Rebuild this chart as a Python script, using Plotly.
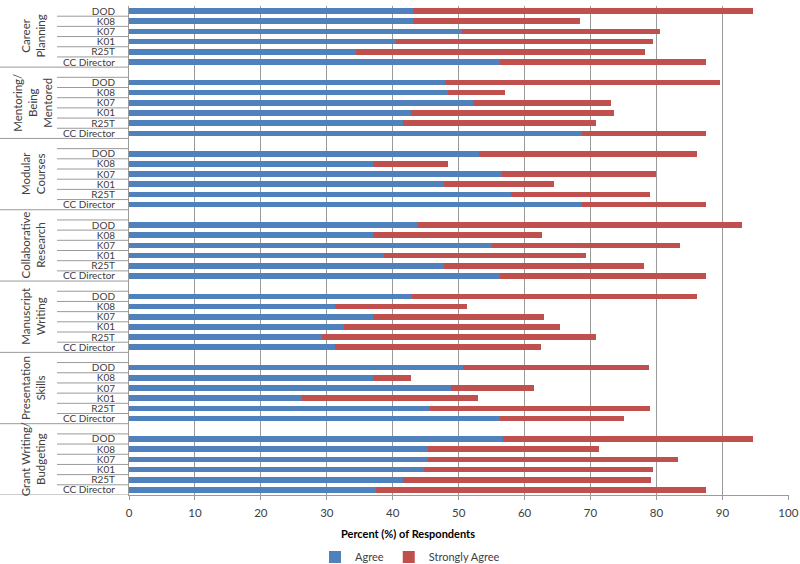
import plotly.graph_objects as go

groups = ["Career<br>Planning", "Mentoring/<br>Being<br>Mentored", "Modular<br>Courses",
          "Collaborative<br>Research", "Manuscript<br>Writing", "Presentation<br>Skills",
          "Grant Writing/<br>Budgeting"]
categories = ["DOD", "K08", "K07", "K01", "R25T", "CC Director"]

agree = [
    [43.0, 43.0, 50.5, 40.5, 34.4, 56.25],
    [48.0, 48.4, 52.1, 42.7, 41.5, 68.75],
    [53.1, 37.0, 56.6, 47.7, 58.0, 68.75],
    [43.8, 37.0, 55.0, 38.7, 47.7, 56.25],
    [42.9, 31.3, 37.0, 32.6, 29.2, 31.25],
    [50.7, 37.0, 48.9, 26.3, 45.7, 56.25],
    [56.7, 45.4, 45.4, 44.7, 41.5, 37.5],
]
strongly_agree = [
    [51.6, 25.4, 30.0, 39.0, 43.8, 31.25],
    [41.6, 8.7, 21.0, 30.8, 29.3, 18.75],
    [33.1, 11.4, 23.3, 16.8, 21.0, 18.75],
    [49.1, 25.7, 28.5, 30.6, 30.4, 31.25],
    [43.3, 20.0, 26.0, 32.7, 41.6, 31.25],
    [28.2, 5.7, 12.5, 26.6, 33.3, 18.75],
    [37.9, 25.9, 37.9, 34.8, 37.6, 50.0],
]
x_ticks = [0, 10, 20, 30, 40, 50, 60, 70, 80, 90, 100]

BLUE = "#4F81BD"
RED = "#C0504D"
GRID = "#9a9a9a"
FONT = "Lato"
TXT = "#404040"

# slot positions: each group occupies 7 slots (one blank above, except the first)
ys, labels, a_vals, s_vals = [], [], [], []
for g in range(len(groups)):
    for r, c in enumerate(categories):
        ys.append(7 * g + r)
        labels.append(c)
        a_vals.append(agree[g][r])
        s_vals.append(strongly_agree[g][r])

fig = go.Figure()
fig.add_trace(go.Bar(y=ys, x=a_vals, orientation="h", name="Agree",
                     marker=dict(color=BLUE, line=dict(width=0)), width=0.55))
fig.add_trace(go.Bar(y=ys, x=s_vals, orientation="h", name="Strongly Agree",
                     marker=dict(color=RED, line=dict(width=0)), width=0.55))

L, R, T, B = 129, 11, 6, 69
W = 800 - L - R
lab_x0 = (57 - L) / W
grp_x0 = -L / W

shapes = []
nslots = 7 * len(groups) - 1
for g in range(len(groups)):
    base = 7 * g
    for r in range(5):
        shapes.append(dict(type="line", xref="paper", yref="y", x0=lab_x0, x1=0,
                           y0=base + r + 0.5, y1=base + r + 0.5,
                           line=dict(color=GRID, width=1)))
    if g > 0:
        shapes.append(dict(type="line", xref="paper", yref="y", x0=lab_x0, x1=0,
                           y0=base - 0.5, y1=base - 0.5, line=dict(color=GRID, width=1)))
        shapes.append(dict(type="line", xref="paper", yref="y", x0=grp_x0, x1=0,
                           y0=base - 1.5, y1=base - 1.5, line=dict(color=GRID, width=1)))
shapes.append(dict(type="line", xref="paper", yref="y", x0=grp_x0, x1=0,
                   y0=nslots - 0.5, y1=nslots - 0.5, line=dict(color=GRID, width=1)))

annotations = []
for g, name in enumerate(groups):
    yc = 2.5 if g == 0 else 7 * g + 2
    annotations.append(dict(text=name, xref="paper", yref="y", x=(33 - L) / W, y=yc,
                            textangle=-90, showarrow=False, xanchor="center", yanchor="middle",
                            font=dict(family=FONT, size=11.5, color=TXT)))
plot_h = 564 - T - B
annotations.append(dict(text="<b>Percent (%) of Respondents</b>", xref="paper", yref="paper",
                        x=(408 - L) / W, y=-(533 - (564 - B)) / plot_h, showarrow=False,
                        xanchor="center", yanchor="middle",
                        font=dict(family=FONT, size=11, color="#000")))

fig.update_layout(
    width=800, height=564,
    margin=dict(l=L, r=R, t=T, b=B, autoexpand=False),
    barmode="stack",
    plot_bgcolor="white", paper_bgcolor="white",
    font=dict(family=FONT, size=11, color=TXT),
    shapes=shapes, annotations=annotations,
    showlegend=True,
    legend=dict(orientation="h", traceorder="normal", x=(410 - L) / W, xanchor="center",
                y=-(557 - (564 - B)) / plot_h, yanchor="middle", itemwidth=30,
                font=dict(family=FONT, size=11, color=TXT)),
    xaxis=dict(range=[0, 100.1], tickvals=x_ticks, showgrid=True, gridcolor=GRID, gridwidth=1,
               showline=True, linecolor=GRID, ticks="outside", ticklen=4, tickcolor=GRID,
               ticklabelstandoff=3, ticklabeloverflow="allow",
               tickfont=dict(family=FONT, size=11.5, color=TXT), zeroline=False,
               automargin=False),
    yaxis=dict(range=[nslots - 0.5, -0.5], tickvals=ys, ticktext=labels, showgrid=False,
               showline=True, linecolor=GRID, ticks="", ticklabelstandoff=11,
               tickfont=dict(family=FONT, size=10, color=TXT), zeroline=False,
               automargin=False),
)

fig.write_html("out.html", config={"displayModeBar": False},
               post_script="document.body.style.margin='0';document.body.style.overflow='hidden';")
